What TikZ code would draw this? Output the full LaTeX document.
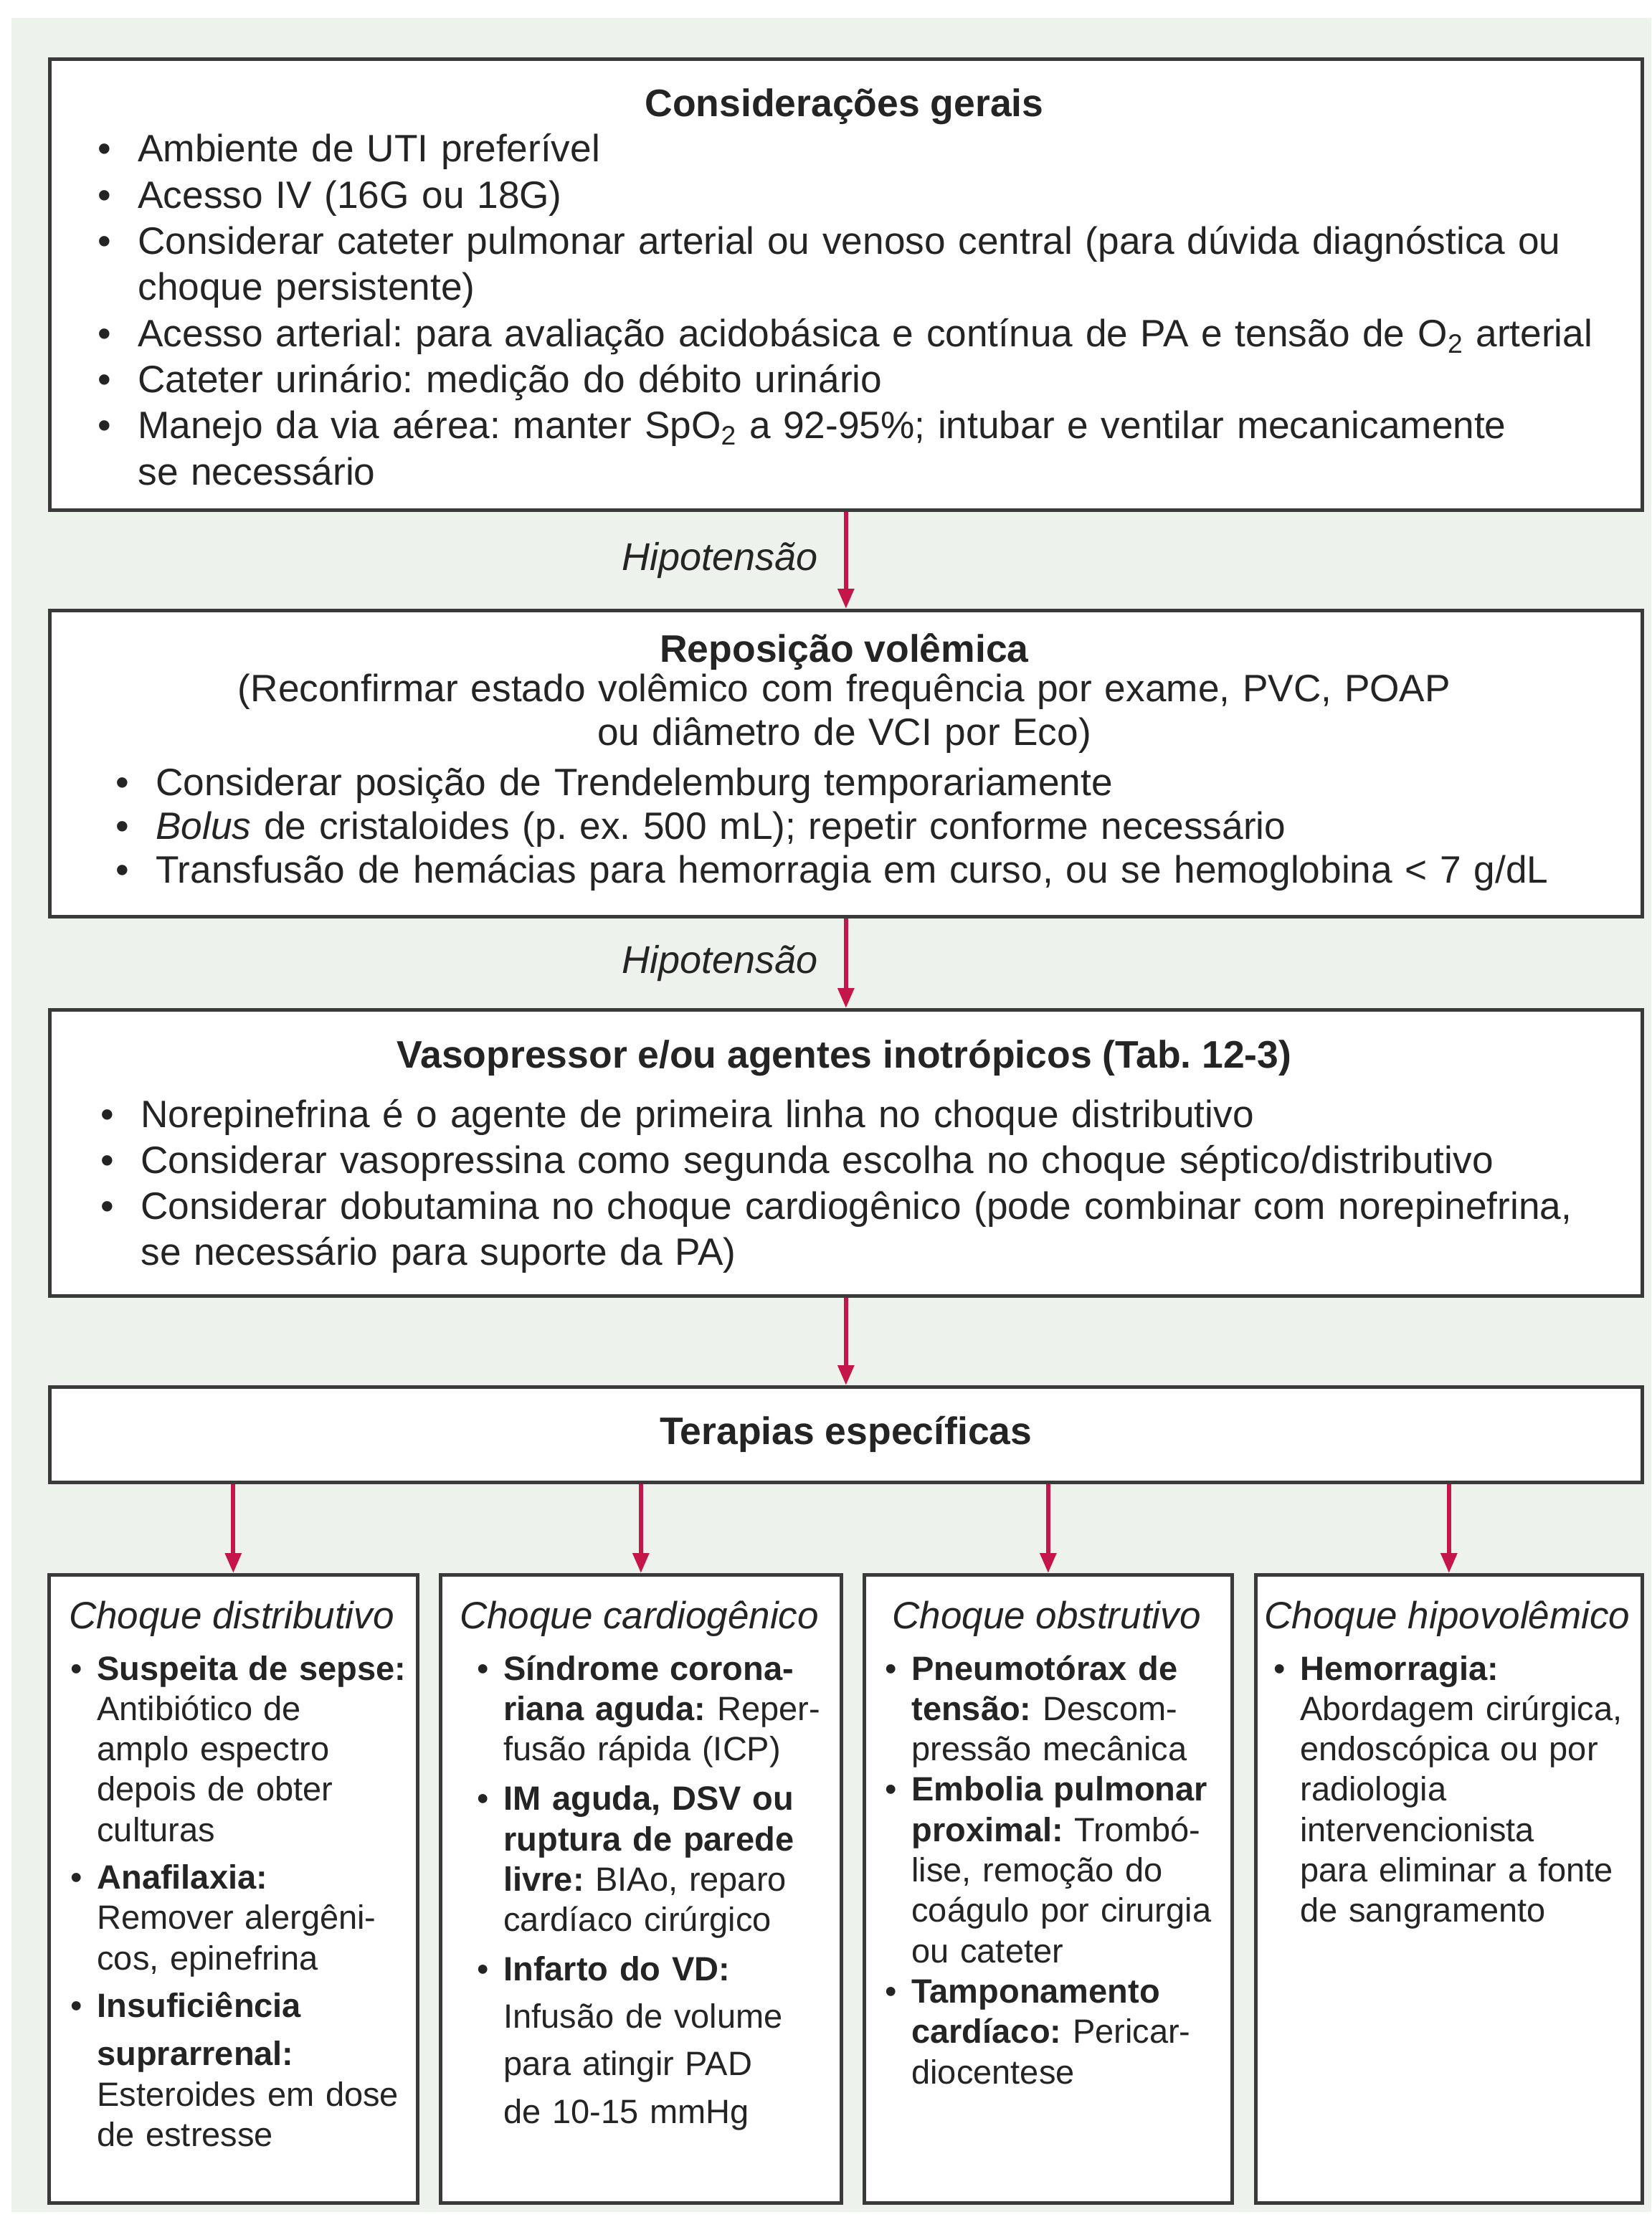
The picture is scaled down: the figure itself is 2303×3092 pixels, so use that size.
\documentclass[tikz,border=0pt]{standalone}
\usepackage{fontspec}
\setmainfont{Liberation Sans}
\usetikzlibrary{arrows.meta,shadows}

\definecolor{bgmint}{RGB}{237,242,236}
\definecolor{frame}{RGB}{58,58,58}
\definecolor{ink}{RGB}{36,36,36}
\definecolor{crimson}{RGB}{196,22,72}

% hanging bullet items: the bullet sits in a box of width \bind;
% \nl breaks a line without ending the paragraph, so the hang stays
\newlength\bind
\makeatletter
\let\nl\@normalcr
\makeatother
\newcommand\bitem{\hangindent=\bind\hangafter=1\noindent\makebox[\bind][l]{\textbullet}}
\newcommand\nitem{\par\bitem}
\newcommand\gap[1]{\par\vspace{#1}\bitem}

\tikzset{
  box/.style={draw=frame, line width=2.3pt, fill=white, rectangle, inner sep=0pt,
    anchor=north west,
    drop shadow={shadow xshift=1.2pt, shadow yshift=-1.2pt, fill=black, opacity=0.3}},
  arr/.style={draw=crimson, line width=3pt, -{Triangle[length=14pt,width=11pt]}},
  hyp/.style={midway, anchor=east, inner xsep=18pt, inner ysep=0pt, text=ink,
    font=\fontsize{27pt}{30pt}\selectfont\itshape},
  headline/.style={inner sep=0pt, anchor=base, text=ink,
    font=\fontsize{26.75pt}{30pt}\selectfont\bfseries},
  subhead/.style={inner sep=0pt, anchor=base, text=ink,
    font=\fontsize{26.5pt}{30pt}\selectfont\itshape},
  body/.style={inner sep=0pt, anchor=base west, align=left, text=ink},
  bulletind/.style={execute at begin node={\setlength\bind{#1}}},
  bigtext/.style={font=\fontsize{26.6pt}{#1}\selectfont},
  smalltext/.style={font=\fontsize{23.5pt}{28.15pt}\selectfont, text width=300pt,
    bulletind=18.5pt}
}

\begin{document}
\frenchspacing
\begin{tikzpicture}[x=0.5pt, y=-0.5pt]
  % page and tinted panel
  \fill[white] (0,0) rectangle (2303,3092);
  \fill[bgmint] (16,25) rectangle (2303,3085);
  \useasboundingbox (0,0) rectangle (2303,3092);

  % main column of boxes
  \node[box, minimum width=1110.5pt, minimum height=314.5pt] (geral) at (67,80) {};
  \node[box, minimum width=1110.5pt, minimum height=213.5pt] (repo) at (67,849) {};
  \node[box, minimum width=1110.5pt, minimum height=199.5pt] (vaso) at (67,1406) {};
  \node[box, minimum width=1110.5pt, minimum height=66.5pt,
        font=\fontsize{26.75pt}{30pt}\selectfont\bfseries, text=ink] (terap) at (67,1932)
        {Terapias específicas};

  % four shock boxes
  \node[box, minimum width=257pt, minimum height=438pt] (dist) at (66,2194) {};
  \node[box, minimum width=279.5pt, minimum height=438pt] (card) at (612,2194) {};
  \node[box, minimum width=256.5pt, minimum height=438pt] (obst) at (1203,2194) {};
  \node[box, minimum width=269.5pt, minimum height=438pt] (hipo) at (1749,2194) {};

  % connectors
  \draw[arr] (geral.south) -- node[hyp] (hyp1) {Hipotensão} (repo.north);
  \draw[arr] (repo.south) -- node[hyp] (hyp2) {Hipotensão} (vaso.north);
  \draw[arr] (vaso.south) -- (terap.north);
  \draw[arr] (terap.south -| dist.north) -- (dist.north);
  \draw[arr] (terap.south -| card.north) -- (card.north);
  \draw[arr] (terap.south -| obst.north) -- (obst.north);
  \draw[arr] (terap.south -| hipo.north) -- (hipo.north);

  % general considerations
  \node[headline] (geralttl) at (1177.5,163) {Considerações gerais};
  \node[body, bigtext=32.15pt, text width=1100pt, bulletind=28pt] (geraltxt) at (136,226) {%
    \bitem Ambiente de UTI preferível
    \nitem Acesso IV (16G ou 18G)
    \nitem Considerar cateter pulmonar arterial ou venoso central (para dúvida diagnóstica ou\nl choque persistente)
    \nitem Acesso arterial: para avaliação acidobásica e contínua de PA e tensão de O\textsubscript{2} arterial
    \nitem Cateter urinário: medição do débito urinário
    \nitem Manejo da via aérea: manter SpO\textsubscript{2} a 92-95\%; intubar e ventilar mecanicamente\nl se necessário\par};

  % volume replacement
  \node[headline] (repottl) at (1177.5,923) {Reposição volêmica};
  \node[inner sep=0pt, anchor=base, align=center, text=ink, bigtext=30.5pt, text width=1100pt]
    (reponote) at (1177.5,978)
    {(Reconfirmar estado volêmico com frequência por exame, PVC, POAP\\ou diâmetro de VCI por Eco)};
  \node[body, bigtext=30.5pt, text width=1080pt, bulletind=28pt] (repotxt) at (161,1109) {%
    \bitem Considerar posição de Trendelemburg temporariamente
    \nitem \textit{Bolus} de cristaloides (p. ex. 500 mL); repetir conforme necessário
    \nitem Transfusão de hemácias para hemorragia em curso, ou se hemoglobina < 7 g/dL\par};

  % vasopressors
  \node[headline] (vasottl) at (1177.5,1489) {Vasopressor e/ou agentes inotrópicos (Tab. 12-3)};
  \node[body, bigtext=32pt, text width=1100pt, bulletind=28pt] (vasotxt) at (140,1572) {%
    \bitem Norepinefrina é o agente de primeira linha no choque distributivo
    \nitem Considerar vasopressina como segunda escolha no choque séptico/distributivo
    \nitem Considerar dobutamina no choque cardiogênico (pode combinar com norepinefrina,\nl se necessário para suporte da PA)\par};

  % shock types
  \node[subhead] (distttl) at (323,2271) {Choque distributivo};
  \node[body, smalltext] (disttxt) at (98,2343) {%
    \bitem\textbf{Suspeita de sepse:}\nl Antibiótico de\nl amplo espectro\nl depois de obter\nl culturas
    \gap{5pt}\textbf{Anafilaxia:}\nl Remover alergêni-\nl cos, epinefrina
    \gap{5pt}\textbf{Insuficiência}\nl[5.5pt]\textbf{suprarrenal:}\nl Esteroides em dose\nl de estresse\par};

  \node[subhead] (cardttl) at (891.5,2271) {Choque cardiogênico};
  \node[body, smalltext] (cardtxt) at (665,2343) {%
    \bitem\textbf{Síndrome corona-}\nl\textbf{riana aguda:} Reper-\nl fusão rápida (ICP)
    \gap{6.5pt}\textbf{IM aguda, DSV ou}\nl\textbf{ruptura de parede}\nl\textbf{livre:} BIAo, reparo\nl cardíaco cirúrgico
    \gap{6pt}\textbf{Infarto do VD:}\nl[5pt]Infusão de volume\nl[5pt]para atingir PAD\nl[5pt]de 10-15 mmHg\par};

  \node[subhead] (obstttl) at (1459.5,2271) {Choque obstrutivo};
  \node[body, smalltext] (obsttxt) at (1234,2343) {%
    \bitem\textbf{Pneumotórax de}\nl\textbf{tensão:} Descom-\nl pressão mecânica
    \nitem\textbf{Embolia pulmonar}\nl\textbf{proximal:} Trombó-\nl lise, remoção do\nl coágulo por cirurgia\nl ou cateter
    \nitem\textbf{Tamponamento}\nl\textbf{cardíaco:} Pericar-\nl diocentese\par};

  \node[subhead] (hipottl) at (2018.5,2271) {Choque hipovolêmico};
  \node[body, smalltext] (hipotxt) at (1776,2343) {%
    \bitem\textbf{Hemorragia:}\nl Abordagem cirúrgica,\nl endoscópica ou por\nl radiologia\nl intervencionista\nl para eliminar a fonte\nl de sangramento\par};
\end{tikzpicture}
\end{document}
